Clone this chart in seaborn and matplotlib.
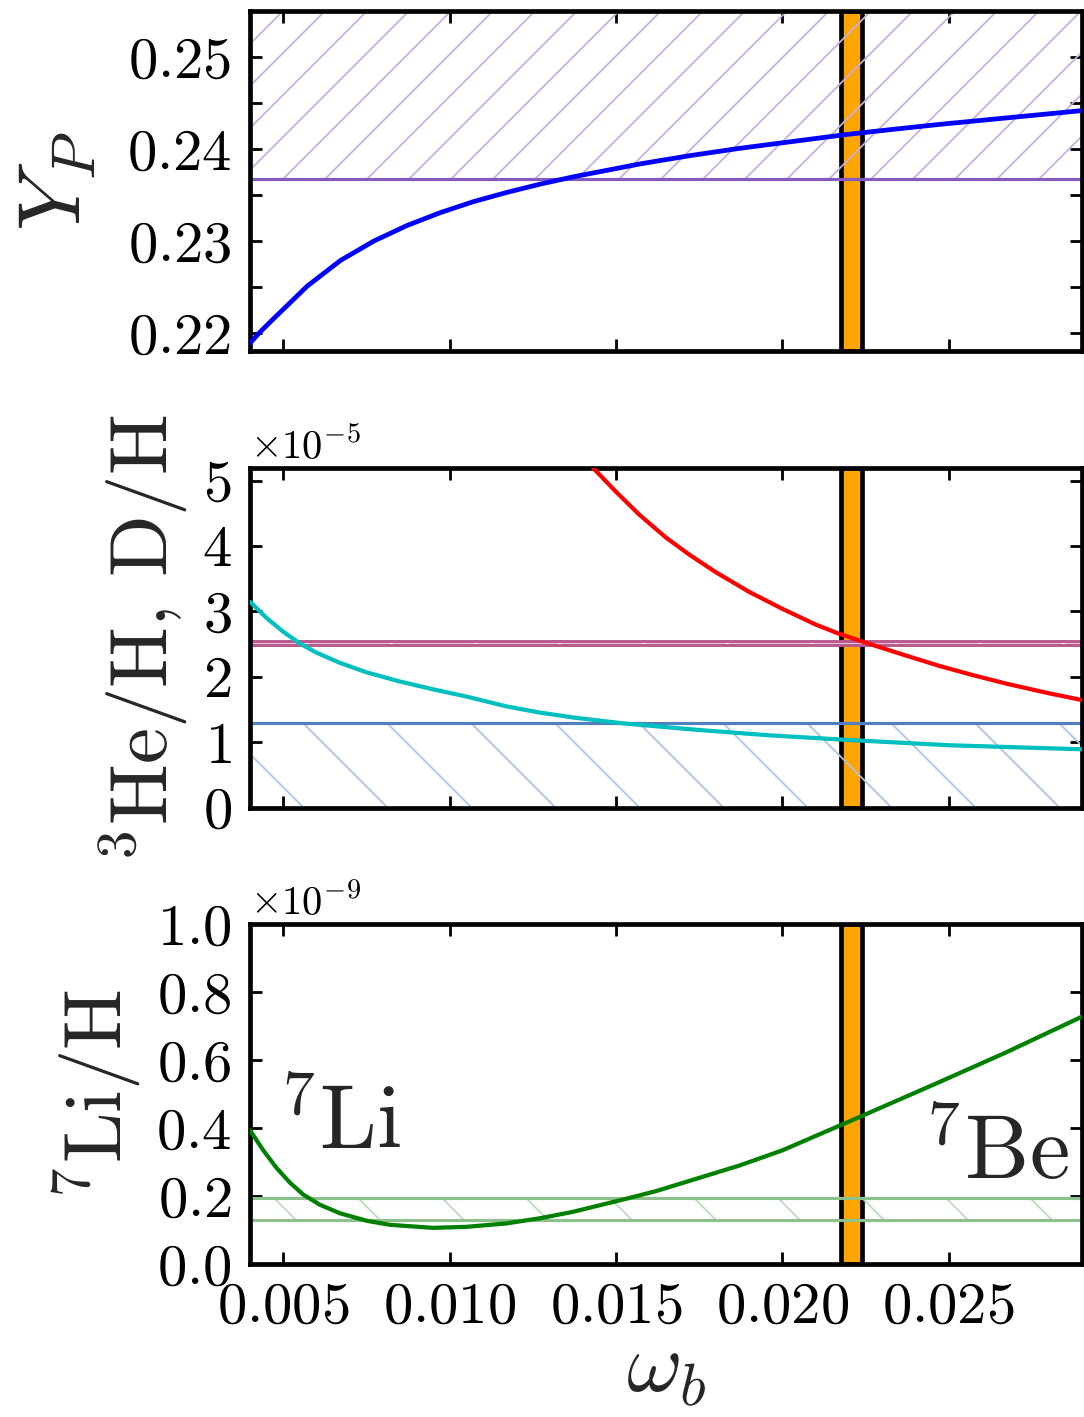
import matplotlib
matplotlib.use("Agg")
import matplotlib.pyplot as plt
from matplotlib.ticker import MultipleLocator
import pandas as pd
import seaborn as sns

# ---- BBN abundances versus baryon density omega_b ----
omega_yp = [0.0040, 0.0043, 0.00472, 0.00572, 0.00672, 0.00772, 0.00872, 0.00972,
            0.01072, 0.01172, 0.01272, 0.01372, 0.01472, 0.01572, 0.01722, 0.01872,
            0.02022, 0.02192, 0.02342, 0.02472, 0.02672, 0.0290]
yp = [0.2189, 0.2201, 0.2216, 0.2251, 0.2279, 0.2300, 0.2317, 0.2331,
      0.2343, 0.2353, 0.2362, 0.2370, 0.2377, 0.2384, 0.2393, 0.2401,
      0.2408, 0.2416, 0.2422, 0.2427, 0.2434, 0.2442]

omega_d = [0.0143, 0.0150, 0.0157, 0.0165, 0.0172, 0.0180, 0.0190, 0.0200, 0.0210,
           0.0217, 0.0224, 0.0235, 0.0247, 0.0257, 0.0267, 0.0280, 0.0290]
d_h = [5.20, 4.83, 4.48, 4.13, 3.87, 3.60, 3.30, 3.04, 2.80,
       2.66, 2.54, 2.36, 2.17, 2.03, 1.90, 1.75, 1.646]                       # x 1e-5

omega_he3 = [0.0040, 0.0045, 0.0050, 0.0055, 0.0060, 0.0067, 0.0075, 0.0085, 0.0095,
             0.0105, 0.0117, 0.0127, 0.0137, 0.0152, 0.0172, 0.0195, 0.0220, 0.0250,
             0.0290]
he3_h = [3.15, 2.90, 2.69, 2.51, 2.37, 2.215, 2.07, 1.93, 1.81,
         1.70, 1.55, 1.455, 1.38, 1.29, 1.20, 1.11, 1.035, 0.955, 0.893]      # x 1e-5

omega_li = [0.0040, 0.0044, 0.0048, 0.0052, 0.0056, 0.0061, 0.0067, 0.0075, 0.0082,
            0.0095, 0.0105, 0.0117, 0.0127, 0.0137, 0.0152, 0.0162, 0.0172, 0.0187,
            0.0200, 0.0222, 0.0247, 0.0267, 0.0290]
li_h = [0.394, 0.335, 0.283, 0.240, 0.205, 0.175, 0.150, 0.128, 0.116,
        0.107, 0.110, 0.120, 0.135, 0.154, 0.190, 0.215, 0.245, 0.290,
        0.335, 0.428, 0.535, 0.622, 0.728]                                    # x 1e-9

# ---- observational constraints ----
yp_obs_low = 0.2368
dh_obs = (2.48, 2.55)            # x 1e-5
he3_obs_high = 1.29              # x 1e-5
li_obs = (0.130, 0.194)          # x 1e-9
omega_cmb = (0.02176, 0.0224)

x_ticks = [0.005, 0.010, 0.015, 0.020, 0.025]

DPI = 504
TICK_SIZE = 8.4

sns.set_theme(style="ticks")
plt.rcParams.update({
    "font.family": ["cmr10"],
    "mathtext.fontset": "cm",
    "axes.unicode_minus": False,
    "axes.formatter.use_mathtext": True,
    "text.hinting": "no_hinting",
    "hatch.linewidth": 0.25,
    "axes.linewidth": 0.67,
    "axes.edgecolor": "black",
    "axes.facecolor": "white",
    "figure.facecolor": "white",
})

fig = plt.figure(figsize=(1084 / DPI, 1417 / DPI), dpi=DPI)
left, width, height = 0.2306, 0.7675, 0.2400
ax1 = fig.add_axes([left, 0.7520, width, height])
ax2 = fig.add_axes([left, 0.4300, width, height])
ax3 = fig.add_axes([left, 0.1078, width, height])

df_yp = pd.DataFrame({"omega": omega_yp, "val": yp})
df_d = pd.DataFrame({"omega": omega_d, "val": [v * 1e-5 for v in d_h]})
df_he = pd.DataFrame({"omega": omega_he3, "val": [v * 1e-5 for v in he3_h]})
df_li = pd.DataFrame({"omega": omega_li, "val": [v * 1e-9 for v in li_h]})

for ax in (ax1, ax2, ax3):
    ax.axvspan(omega_cmb[0], omega_cmb[1], facecolor="orange", edgecolor="black",
               linewidth=0.67, zorder=0.5)
    ax.set_xlim(0.004, 0.029)
    ax.xaxis.set_major_locator(MultipleLocator(0.005))
    ax.tick_params(which="both", direction="in", top=True, right=True,
                   length=1.7, width=0.4, labelsize=TICK_SIZE, pad=2.6, colors="black")
    ax.yaxis.OFFSETTEXTPAD = 1.4

# Helium-4 mass fraction
ax1.axhspan(yp_obs_low, 0.30, facecolor="none", edgecolor="#c4aee4", hatch="////",
            linewidth=0, zorder=1)
ax1.axhline(yp_obs_low, color="#8459c0", linewidth=0.45, zorder=2)
sns.lineplot(data=df_yp, x="omega", y="val", ax=ax1, color="blue", linewidth=0.68,
             zorder=3)
ax1.set_ylim(0.218, 0.255)
ax1.yaxis.set_major_locator(MultipleLocator(0.01))
ax1.yaxis.set_minor_locator(MultipleLocator(0.005))
ax1.tick_params(labelbottom=False)
ax1.set_xlabel("")
ax1.set_ylabel(r"$Y_P$", fontsize=12.6)
ax1.yaxis.set_label_coords(-0.184, 0.5)

# Deuterium and helium-3
ax2.axhspan(0, he3_obs_high * 1e-5, facecolor="none", edgecolor="#aac4e4",
            hatch="\\\\", linewidth=0, zorder=1)
ax2.axhline(he3_obs_high * 1e-5, color="#5080bd", linewidth=0.45, zorder=2)
ax2.axhspan(dh_obs[0] * 1e-5, dh_obs[1] * 1e-5, facecolor="#e8c3d7", edgecolor="white",
            hatch="\\\\", linewidth=0, zorder=1)
for v in dh_obs:
    ax2.axhline(v * 1e-5, color="#b85a8e", linewidth=0.42, zorder=2)
sns.lineplot(data=df_he, x="omega", y="val", ax=ax2, color="#00bfbf", linewidth=0.6,
             zorder=3)
sns.lineplot(data=df_d, x="omega", y="val", ax=ax2, color="red", linewidth=0.6, zorder=3)
ax2.set_ylim(0, 5.2e-5)
ax2.yaxis.set_major_locator(MultipleLocator(1e-5))
ax2.tick_params(labelbottom=False)
ax2.set_xlabel("")
ax2.set_ylabel(r"$^3$He/H, D/H", fontsize=11.6)
ax2.yaxis.set_label_coords(-0.072, 0.5)
ax2.yaxis.get_offset_text().set_fontsize(5.8)

# Lithium-7
ax3.axhspan(li_obs[0] * 1e-9, li_obs[1] * 1e-9, facecolor="none", edgecolor="#b8dbb8",
            hatch="\\\\", linewidth=0, zorder=1)
for v in li_obs:
    ax3.axhline(v * 1e-9, color="#8dc08d", linewidth=0.45, zorder=2)
sns.lineplot(data=df_li, x="omega", y="val", ax=ax3, color="green", linewidth=0.6,
             zorder=3)
ax3.set_ylim(0, 1.0e-9)
ax3.yaxis.set_major_locator(MultipleLocator(0.2e-9))
ax3.set_xticks(x_ticks)
ax3.set_ylabel(r"$^7$Li/H", fontsize=11.6)
ax3.yaxis.set_label_coords(-0.129, 0.5)
ax3.yaxis.get_offset_text().set_fontsize(5.8)
ax3.set_xlabel(r"$\omega_b$", fontsize=12.2)
ax3.xaxis.set_label_coords(0.5, -0.20)
ax3.text(0.00483, 0.341e-9, r"$^7$Li", fontsize=13.0, zorder=4)
ax3.text(0.02421, 0.253e-9, r"$^7$Be", fontsize=13.0, zorder=4)

fig.savefig("out.png", dpi=DPI)
